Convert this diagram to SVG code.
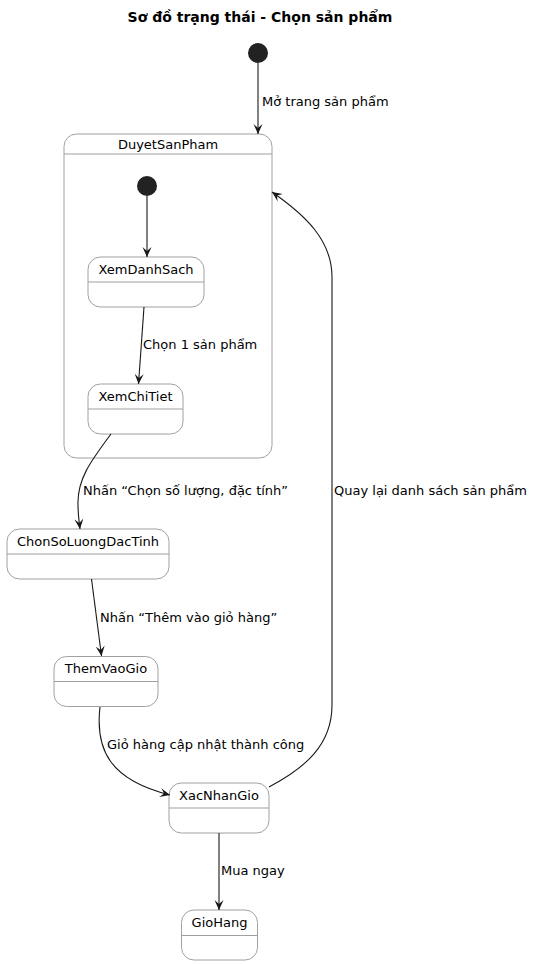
<svg xmlns="http://www.w3.org/2000/svg" width="533" height="965" viewBox="0 0 533 965">
<style>
text{font-family:"DejaVu Sans","Liberation Sans",sans-serif;fill:#000}
.title{font-size:14px;font-weight:bold}
.name{font-size:13px;text-anchor:middle}
.lbl{font-size:13px}
.st{fill:#fff;stroke:#a0a0a0;stroke-width:1}
.sep{stroke:#a0a0a0;stroke-width:1}
.init{fill:#222}
.edge{fill:none;stroke:#181818;stroke-width:1.1;marker-end:url(#arr)}
</style>
<defs>
<marker id="arr" markerUnits="userSpaceOnUse" viewBox="-11 -5.5 12 11" refX="0" refY="0" markerWidth="12" markerHeight="11" orient="auto">
<path d="M-10,-4.5 L0,0 L-10,4.5 L-6,0 Z" fill="#181818"/>
</marker>
</defs>
<rect width="533" height="965" fill="#fff"/>
<text class="title" x="260" y="22" text-anchor="middle">Sơ đồ trạng thái - Chọn sản phẩm</text>

<g id="init1"><circle class="init" cx="258" cy="53" r="10"/></g>

<g id="DuyetSanPham">
<rect class="st" x="64" y="134" width="208" height="324" rx="12.5"/>
<line class="sep" x1="64" y1="154" x2="272" y2="154"/>
<text class="name" x="168" y="149">DuyetSanPham</text>
</g>

<g id="init2"><circle class="init" cx="147" cy="186" r="10"/></g>

<g id="XemDanhSach">
<rect class="st" x="88" y="257" width="116" height="50" rx="12.5"/>
<line class="sep" x1="88" y1="282" x2="204" y2="282"/>
<text class="name" x="146" y="274">XemDanhSach</text>
</g>

<g id="XemChiTiet">
<rect class="st" x="88" y="384" width="95" height="50" rx="12.5"/>
<line class="sep" x1="88" y1="409" x2="183" y2="409"/>
<text class="name" x="135.5" y="401">XemChiTiet</text>
</g>

<g id="ChonSoLuongDacTinh">
<rect class="st" x="7" y="529" width="162" height="50" rx="12.5"/>
<line class="sep" x1="7" y1="554" x2="169" y2="554"/>
<text class="name" x="88" y="546">ChonSoLuongDacTinh</text>
</g>

<g id="ThemVaoGio">
<rect class="st" x="54" y="656.5" width="104" height="50" rx="12.5"/>
<line class="sep" x1="54" y1="681.5" x2="158" y2="681.5"/>
<text class="name" x="106" y="673">ThemVaoGio</text>
</g>

<g id="XacNhanGio">
<rect class="st" x="169" y="783" width="100" height="50" rx="12.5"/>
<line class="sep" x1="169" y1="808" x2="269" y2="808"/>
<text class="name" x="219" y="800">XacNhanGio</text>
</g>

<g id="GioHang">
<rect class="st" x="181.5" y="910" width="76" height="50" rx="12.5"/>
<line class="sep" x1="181.5" y1="935.5" x2="257.5" y2="935.5"/>
<text class="name" x="219.5" y="927">GioHang</text>
</g>

<g id="connectors">
<path class="edge" d="M258,63 L258,134"/>
<text class="lbl" x="262" y="106">Mở trang sản phẩm</text>
<path class="edge" d="M147,196 L147,257"/>
<path class="edge" d="M144,307 L138.5,384"/>
<text class="lbl" x="143" y="349">Chọn 1 sản phẩm</text>
<path class="edge" d="M111,434 C90,462 77,480 78,505 C78,515 79,520 80,529"/>
<text class="lbl" x="83" y="495">Nhấn “Chọn số lượng, đặc tính”</text>
<path class="edge" d="M91.5,579 L101.5,656"/>
<text class="lbl" x="100" y="622">Nhấn “Thêm vào giỏ hàng”</text>
<path class="edge" d="M100,707 C95,750 110,780 170,795"/>
<text class="lbl" x="107" y="749">Giỏ hàng cập nhật thành công</text>
<path class="edge" d="M219,833 L219,910"/>
<text class="lbl" x="221" y="875">Mua ngay</text>
<path class="edge" d="M269,787 C305,768 332,745 332,705 L332,277 C332,240 305,215 272,192"/>
<text class="lbl" x="334" y="495">Quay lại danh sách sản phẩm</text>
</g>
</svg>
